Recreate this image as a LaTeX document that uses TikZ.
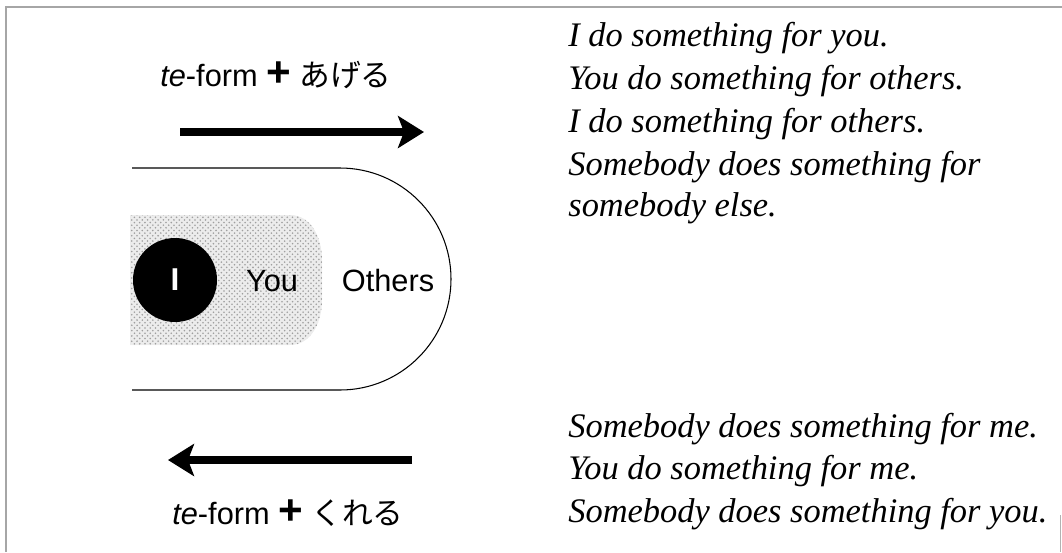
\documentclass[tikz,border=0pt]{standalone}
\usepackage{fontspec}
\setmainfont{Liberation Serif}
\setsansfont{Liberation Sans}
\newfontfamily\jpfont{Noto Sans CJK JP}
\usetikzlibrary{arrows.meta, positioning, patterns}

\newcommand{\bigplus}{{\fontsize{24}{24}\selectfont\bfseries +}}

\begin{document}
\begin{tikzpicture}[x=0.02cm, y=-0.02cm,
    bigarrow/.style={line width=4pt, -{Stealth[length=0.52cm, width=0.64cm, inset=0.12cm]}},
    formlabel/.style={font=\fontsize{17.5}{20}\selectfont\sffamily, inner sep=0pt},
    sentence/.style={font=\fontsize{19.6}{22}\selectfont\itshape, anchor=base west, inner sep=0pt}]

    \useasboundingbox (0,0) rectangle (1062,552);

    % Frame
    \draw[gray!70, line width=0.6pt] (6,552) -- (6,7) -- (1062,7);
    \draw[gray!60, line width=0.5pt] (1060,515) -- (1060,552);

    % Group of people
    \draw[line width=0.6pt] (132,168) -- (340,168) arc[start angle=-90, end angle=90, radius=111] -- (132,390);
    \fill[gray!15] (130,215) -- (290,215) to[out=0, in=90] (322,260) -- (322,300) to[out=-90, in=0] (290,345) -- (130,345) -- cycle;
    \fill[pattern=crosshatch dots, pattern color=gray!75] (130,215) -- (290,215) to[out=0, in=90] (322,260) -- (322,300) to[out=-90, in=0] (290,345) -- (130,345) -- cycle;
    \node[circle, fill=black, minimum size=84*0.02cm, inner sep=0pt] (me) at (175,280)
        {\textcolor{white}{\fontsize{18}{20}\selectfont\sffamily\bfseries I}};
    \node[formlabel] (you) at (272,281) {You};
    \node[formlabel] (others) at (388,281) {Others};

    % Arrows
    \coordinate (giveA) at (180,132);
    \coordinate (giveB) at (424,132);
    \coordinate (getA) at (412,460);
    \coordinate (getB) at (168,460);
    \draw[bigarrow] (giveA) -- (giveB);
    \draw[bigarrow] (getA) -- (getB);

    \node[formlabel] (ageru) at (276,75) {\textit{te}-form \bigplus{} {\jpfont あげる}};
    \node[formlabel] (kureru) at (288,513) {\textit{te}-form \bigplus{} {\jpfont くれる}};

    % Sentences
    \node[sentence] (s1) at (568,46) {I do something for you.};
    \node[sentence] (s2) at (568,89) {You do something for others.};
    \node[sentence] (s3) at (568,132) {I do something for others.};
    \node[sentence] (s4) at (568,175) {Somebody does something for};
    \node[sentence] (s5) at (568,216) {somebody else.};
    \node[sentence] (s6) at (568,437) {Somebody does something for me.};
    \node[sentence] (s7) at (568,479) {You do something for me.};
    \node[sentence] (s8) at (568,522) {Somebody does something for you.};

\end{tikzpicture}
\end{document}
